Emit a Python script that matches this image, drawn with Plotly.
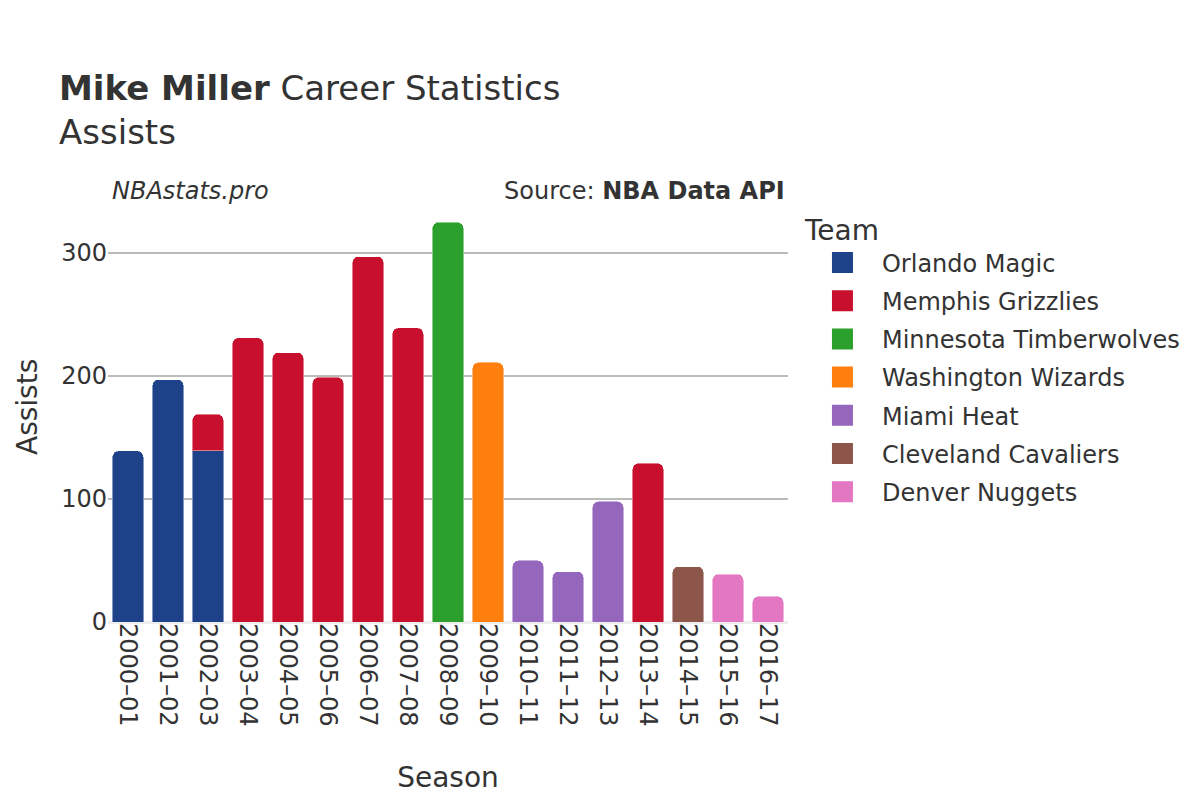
"""
Mike Miller career assists by season, stacked by team
"""

import plotly.graph_objects as go

SEASONS = [
    "2000–01", "2001–02", "2002–03", "2003–04", "2004–05", "2005–06",
    "2006–07", "2007–08", "2008–09", "2009–10", "2010–11", "2011–12",
    "2012–13", "2013–14", "2014–15", "2015–16", "2016–17",
]

TEAMS = [
    "Orlando Magic", "Memphis Grizzlies", "Minnesota Timberwolves",
    "Washington Wizards", "Miami Heat", "Cleveland Cavaliers", "Denver Nuggets",
]

TEAM_COLORS = ["#1d428a", "#c8102e", "#2ca02c", "#ff7f0e", "#9467bd", "#8c564b", "#e377c2"]

# assists per season for each team (None = did not play for that team)
ORLANDO = [139, 197, 139, None, None, None, None, None, None, None, None, None, None, None, None, None, None]
MEMPHIS = [None, None, 30, 231, 219, 199, 297, 239, None, None, None, None, None, 129, None, None, None]
MINNESOTA = [None, None, None, None, None, None, None, None, 325, None, None, None, None, None, None, None, None]
WASHINGTON = [None, None, None, None, None, None, None, None, None, 211, None, None, None, None, None, None, None]
MIAMI = [None, None, None, None, None, None, None, None, None, None, 50, 41, 98, None, None, None, None]
CLEVELAND = [None, None, None, None, None, None, None, None, None, None, None, None, None, None, 45, None, None]
DENVER = [None, None, None, None, None, None, None, None, None, None, None, None, None, None, None, 39, 21]

TEAM_VALUES = [ORLANDO, MEMPHIS, MINNESOTA, WASHINGTON, MIAMI, CLEVELAND, DENVER]

FONT = "DejaVu Sans"
TEXT_CLR = "#333333"


def create_chart():
    fig = go.Figure()
    for team, color, values in zip(TEAMS, TEAM_COLORS, TEAM_VALUES):
        fig.add_trace(
            go.Bar(
                x=SEASONS,
                y=values,
                name=team,
                legendgroup=team,
                showlegend=False,
                marker=dict(color=color, line=dict(width=1, color="rgba(255,255,255,0.45)")),
                hovertemplate="<b>%{x}</b><br>" + team + ": %{y}<extra></extra>",
            )
        )
    # legend entries with larger square swatches
    for team, color in zip(TEAMS, TEAM_COLORS):
        fig.add_trace(
            go.Scatter(
                x=[None],
                y=[None],
                name=team,
                legendgroup=team,
                mode="markers",
                marker=dict(symbol="square", size=16, color=color, line=dict(width=5, color=color)),
                hoverinfo="skip",
            )
        )

    fig.update_layout(
        width=1200,
        height=800,
        barmode="stack",
        bargap=0.22,
        barcornerradius=6,
        plot_bgcolor="white",
        paper_bgcolor="white",
        font=dict(family=FONT, size=24, color=TEXT_CLR),
        margin=dict(t=192, b=186, l=100, r=420),
        title=dict(
            text="<b>Mike Miller</b> Career Statistics<br>Assists",
            x=0.0425,
            xanchor="left",
            y=0.885,
            yanchor="top",
            font=dict(size=34, color=TEXT_CLR),
        ),
        legend=dict(
            title=dict(text="Team", font=dict(size=28)),
            font=dict(size=24),
            traceorder="grouped",
            tracegroupgap=4,
            itemwidth=69,
            x=1.022,
            xanchor="left",
            y=0.9905,
            yanchor="top",
        ),
        xaxis=dict(
            title=dict(text="Season", font=dict(size=28), standoff=41),
            tickangle=90,
            tickfont=dict(size=24),
            showgrid=False,
            automargin=False,
        ),
        yaxis=dict(
            range=[0, 343],
            tickvals=[0, 100, 200, 300],
            tickfont=dict(size=24),
            gridcolor="#bbbbbb",
            gridwidth=1.5,
            zeroline=True,
            zerolinecolor="#eeeeee",
            zerolinewidth=3,
            automargin=False,
        ),
        annotations=[
            dict(
                text="Assists",
                xref="paper", yref="paper",
                x=-0.1191, y=0.5, xanchor="center", yanchor="middle",
                yshift=4,
                textangle=-90,
                showarrow=False,
                font=dict(size=28, color=TEXT_CLR),
            ),
            dict(
                text="<i>NBAstats.pro</i>",
                xref="paper", yref="paper",
                x=0.0, y=1.0, xanchor="left", yanchor="middle",
                xshift=2, yshift=9,
                showarrow=False,
                font=dict(size=24, color=TEXT_CLR),
            ),
            dict(
                text="Source: <b>NBA Data API</b>",
                xref="paper", yref="paper",
                x=1.0, y=1.0, xanchor="right", yanchor="middle",
                xshift=-1, yshift=9,
                showarrow=False,
                font=dict(size=24, color=TEXT_CLR),
            ),
        ],
    )
    return fig


def main():
    fig = create_chart()
    fig.write_html("out.html")


if __name__ == "__main__":
    main()
